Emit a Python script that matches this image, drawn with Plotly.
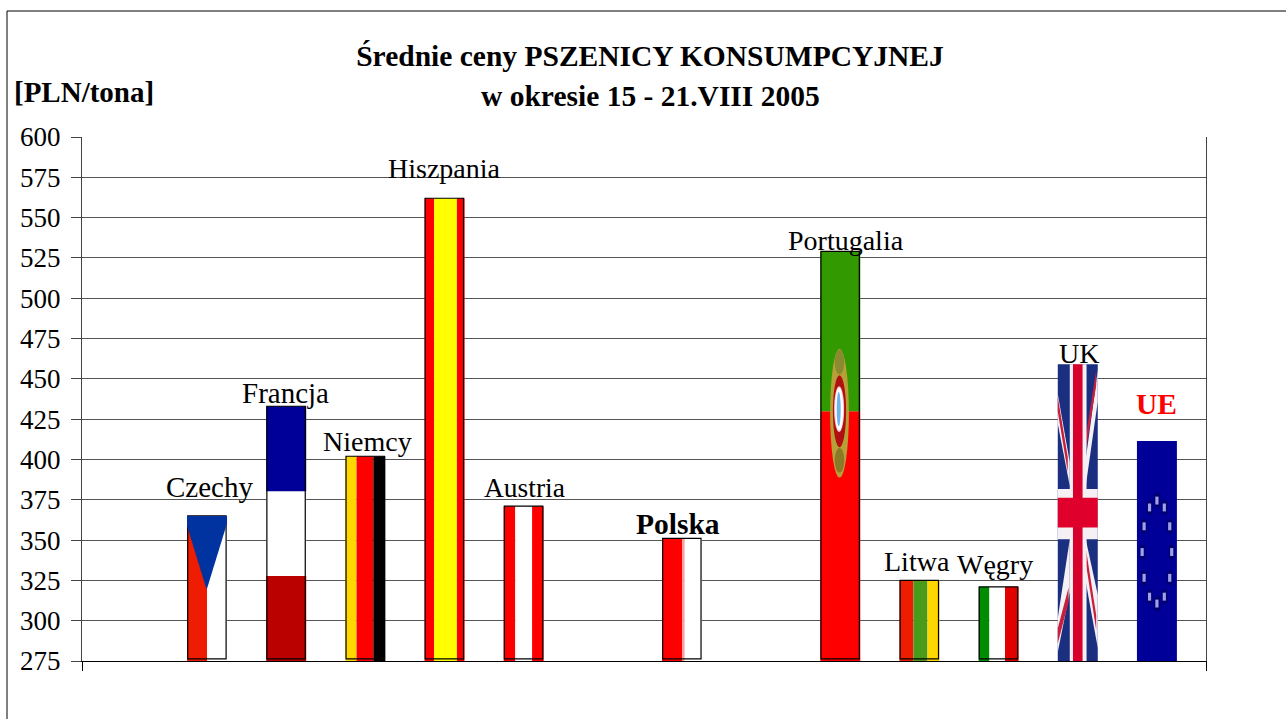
import numpy as np
import plotly.graph_objects as go

categories = ["Czechy", "Francja", "Niemcy", "Hiszpania", "Austria", "Polska",
              "Portugalia", "Litwa", "Węgry", "UK", "UE"]
slots = [0, 1, 2, 3, 4, 6, 8, 9, 10, 11, 12]
prices = [365, 433, 402, 562, 371, 351, 529, 325, 321, 459, 411.5]

title_line1 = "Średnie ceny PSZENICY KONSUMPCYJNEJ"
title_line2 = "w okresie 15 - 21.VIII 2005"
y_unit = "[PLN/tona]"
y_ticks = list(range(275, 601, 25))

BASE = 275
W = 0.505
FONT = "Liberation Serif"

# flag stripes: fx0, fx1, fy0, fy1, colour (fractions of the bar)
flags = {
    "Czechy": [(0, .5, 0, 1, "#ee1c00"), (.5, 1, 0, 1, "#ffffff")],
    "Francja": [(0, 1, 0, 1/3, "#bb0000"), (0, 1, 1/3, 2/3, "#ffffff"), (0, 1, 2/3, 1, "#000099")],
    "Niemcy": [(0, .28, 0, 1, "#ffd700"), (.28, .70, 0, 1, "#ff0000"), (.70, 1, 0, 1, "#000000")],
    "Hiszpania": [(0, .24, 0, 1, "#ff0000"), (.24, .81, 0, 1, "#ffff00"), (.81, 1, 0, 1, "#ff0000")],
    "Austria": [(0, .29, 0, 1, "#ff0000"), (.29, .71, 0, 1, "#ffffff"), (.71, 1, 0, 1, "#ff0000")],
    "Polska": [(0, .5, 0, 1, "#ff0000"), (.5, .57, 0, 1, "#ffa0a0"), (.57, 1, 0, 1, "#ffffff")],
    "Portugalia": [(0, 1, 0, .61, "#ff0000"), (0, 1, .61, 1, "#339900")],
    "Litwa": [(0, .35, 0, 1, "#ee1c00"), (.35, .70, 0, 1, "#4a9a1c"), (.70, 1, 0, 1, "#ffd700")],
    "Węgry": [(0, .27, 0, 1, "#008c00"), (.27, .66, 0, 1, "#ffffff"), (.66, 1, 0, 1, "#e00000")],
    "UK": [(0, 1, 0, 1, "#1a2f80")],
    "UE": [(0, 1, 0, 1, "#000099")],
}
outlined = ["Czechy", "Francja", "Niemcy", "Hiszpania", "Austria", "Polska",
            "Portugalia", "Litwa", "Węgry"]
# label offset in px above bar top, and horizontal shift
label_dy = {"Czechy": 29, "Francja": 13, "Niemcy": 15, "Hiszpania": 30, "Austria": 19, "Polska": 14,
            "Portugalia": 11, "Litwa": 19, "Węgry": 22, "UK": 11, "UE": 37}
label_dx = {"Czechy": 2, "Francja": -1, "Niemcy": 2, "Hiszpania": 0, "Austria": 1, "Polska": -4,
            "Portugalia": 6, "Litwa": -2, "Węgry": -4, "UK": 1, "UE": 0}
label_size = {"Czechy": 29, "Francja": 29, "Niemcy": 28, "Hiszpania": 28, "Austria": 27.5, "Polska": 29.5,
              "Portugalia": 28, "Litwa": 28, "Węgry": 28, "UK": 28, "UE": 29.5}

pos = dict(zip(categories, slots))
val = dict(zip(categories, prices))

bx, bh, bb, bw, bo, bc = [], [], [], [], [], []
for name in categories:
    i, v = pos[name], val[name]
    for fx0, fx1, fy0, fy1, col in flags[name]:
        y0 = BASE + fy0 * (v - BASE)
        y1 = BASE + fy1 * (v - BASE)
        bx.append(i); bb.append(y0); bh.append(y1 - y0)
        bw.append((fx1 - fx0) * W); bo.append(-W / 2 + fx0 * W); bc.append(col)

fig = go.Figure()
fig.add_trace(go.Bar(x=bx, y=bh, base=bb, width=bw, offset=bo,
                     marker=dict(color=bc, line=dict(width=0)), showlegend=False, hoverinfo="skip"))

ox = [pos[n] for n in outlined]
oy = [val[n] - BASE - 1.3 for n in outlined]
fig.add_trace(go.Bar(x=ox, y=oy, base=[BASE + 1.3] * len(ox), width=[W - 0.02] * len(ox),
                     offset=[-W / 2 + 0.008] * len(ox),
                     marker=dict(color="rgba(0,0,0,0)", line=dict(color="#000000", width=1.2)),
                     showlegend=False, hoverinfo="skip"))

shapes = []


def fp(name, fx, fy):
    return pos[name] - W / 2 + fx * W, BASE + fy * (val[name] - BASE)


def poly(name, pts, color):
    coords = [fp(name, a, b) for a, b in pts]
    path = "M " + " L ".join(f"{x:.4f},{y:.3f}" for x, y in coords) + " Z"
    shapes.append(dict(type="path", path=path, xref="x", yref="y", fillcolor=color, line=dict(width=0)))


def oval(name, cx, cy, rx, ry, color, kind="circle"):
    x0, y0 = fp(name, cx - rx, cy - ry)
    x1, y1 = fp(name, cx + rx, cy + ry)
    shapes.append(dict(type=kind, xref="x", yref="y", x0=x0, y0=y0, x1=x1, y1=y1,
                       fillcolor=color, line=dict(width=0)))


# Czech wedge
poly("Czechy", [(0, 1), (1, 1), (1, .95), (.5, .5), (.48, .5), (0, .93)], "#0033a0")

# Portuguese arms
oval("Portugalia", .48, .605, .235, .157, "#b8a038")
oval("Portugalia", .48, .73, .12, .03, "#8a8a30")
oval("Portugalia", .48, .49, .12, .03, "#8a7a28")
oval("Portugalia", .48, .61, .165, .088, "#b01010")
oval("Portugalia", .47, .615, .125, .056, "#ffc8d0")
oval("Portugalia", .47, .615, .10, .052, "#ffffff")
oval("Portugalia", .46, .615, .05, .042, "#70b4ee")

# Union Jack: white diagonals, red diagonals, then the cross
poly("UK", [(0, .90), (.30, .67), (.30, .59), (0, .80)], "#f4f0f4")
poly("UK", [(1, .98), (.70, .68), (.70, .59), (1, .875)], "#f4f0f4")
poly("UK", [(0, .145), (.30, .41), (.30, .233), (0, .03)], "#f4f0f4")
poly("UK", [(1, .223), (.70, .41), (.70, .267), (1, .044)], "#f4f0f4")
poly("UK", [(0, .89), (.25, .687), (.25, .637), (0, .84)], "#c8203c")
poly("UK", [(.96, .979), (.71, .765), (.71, .715), (.96, .929)], "#c8203c")
poly("UK", [(0, .11), (.27, .248), (.27, .198), (0, .06)], "#c8203c")
poly("UK", [(.96, .155), (.71, .373), (.71, .323), (.96, .105)], "#c8203c")
poly("UK", [(.30, 0), (.72, 0), (.72, 1), (.30, 1)], "#f4f0f4")
poly("UK", [(0, .41), (1, .41), (1, .58), (0, .58)], "#f4f0f4")
poly("UK", [(.38, 0), (.62, 0), (.62, 1), (.38, 1)], "#d8002c")
poly("UK", [(0, .45), (1, .45), (1, .55), (0, .55)], "#e0002c")

# EU ring of stars
for k in range(12):
    a = 2 * np.pi * k / 12
    cx, cy = .5 + .37 * np.sin(a), .495 + .234 * np.cos(a)
    oval("UE", cx, cy, .075, .032, "#000070", kind="rect")
    oval("UE", cx, cy, .04, .018, "#a0a0e8", kind="rect")

annotations = []
for name in categories:
    bold = name in ("Polska", "UE")
    annotations.append(dict(
        x=pos[name], y=val[name], xref="x", yref="y", xanchor="center", yanchor="middle",
        xshift=label_dx[name], yshift=label_dy[name], showarrow=False,
        text=f"<b>{name}</b>" if bold else name,
        font=dict(family=FONT, size=label_size[name],
                  color="#ff0000" if name == "UE" else "#000000")))

annotations.append(dict(xref="paper", yref="paper", x=(650 - 82) / 1124, y=(661 - 96) / 524,
                        xanchor="center", yanchor="middle", showarrow=False,
                        text=f"<b>{title_line2}</b>", font=dict(family=FONT, size=29.5, color="#000000")))
annotations.append(dict(xref="paper", yref="paper", x=(12 - 82) / 1124, y=(661 - 92) / 524,
                        xanchor="left", yanchor="middle", showarrow=False,
                        text=f"<b>{y_unit}</b>", font=dict(family=FONT, size=29, color="#000000")))

# outer chart frame
fx0 = (7 - 82) / 1124
fy1 = (661 - 11) / 524
shapes.append(dict(type="path", xref="paper", yref="paper",
                   path=f"M {fx0},-0.2 L {fx0},{fy1} L 1.2,{fy1}", line=dict(color="#000000", width=1)))

XMIN, XMAX = -1.58, 12.62
fig.update_layout(
    width=1286, height=719,
    margin=dict(l=82, r=80, t=137, b=58),
    paper_bgcolor="#ffffff", plot_bgcolor="#ffffff",
    barmode="overlay", showlegend=False,
    title=dict(text=f"<b>{title_line1}</b>", x=650 / 1286, xanchor="center", xref="container",
               y=1 - 56 / 719, yanchor="middle", yref="container",
               font=dict(family=FONT, size=29.5, color="#000000")),
    xaxis=dict(range=[XMIN, XMAX], tickmode="array", tickvals=[XMIN, XMAX], ticktext=["", ""],
               ticks="outside", ticklen=9, tickcolor="#000000", tickwidth=1,
               showgrid=False, zeroline=False, showline=True, linecolor="#000000", linewidth=1),
    yaxis=dict(range=[BASE, 600], tickmode="array", tickvals=y_ticks, ticks="outside", ticklen=10,
               tickcolor="#444444", tickwidth=1, showgrid=True, gridcolor="#555555", gridwidth=1,
               zeroline=False, showline=True, linecolor="#444444", linewidth=1, mirror=True,
               ticklabelstandoff=5,
               tickfont=dict(family=FONT, size=27, color="#000000")),
    shapes=shapes, annotations=annotations,
)
fig.write_html("out.html", config={"displayModeBar": False},
               post_script="document.body.style.margin='0';document.body.style.overflow='hidden';")
